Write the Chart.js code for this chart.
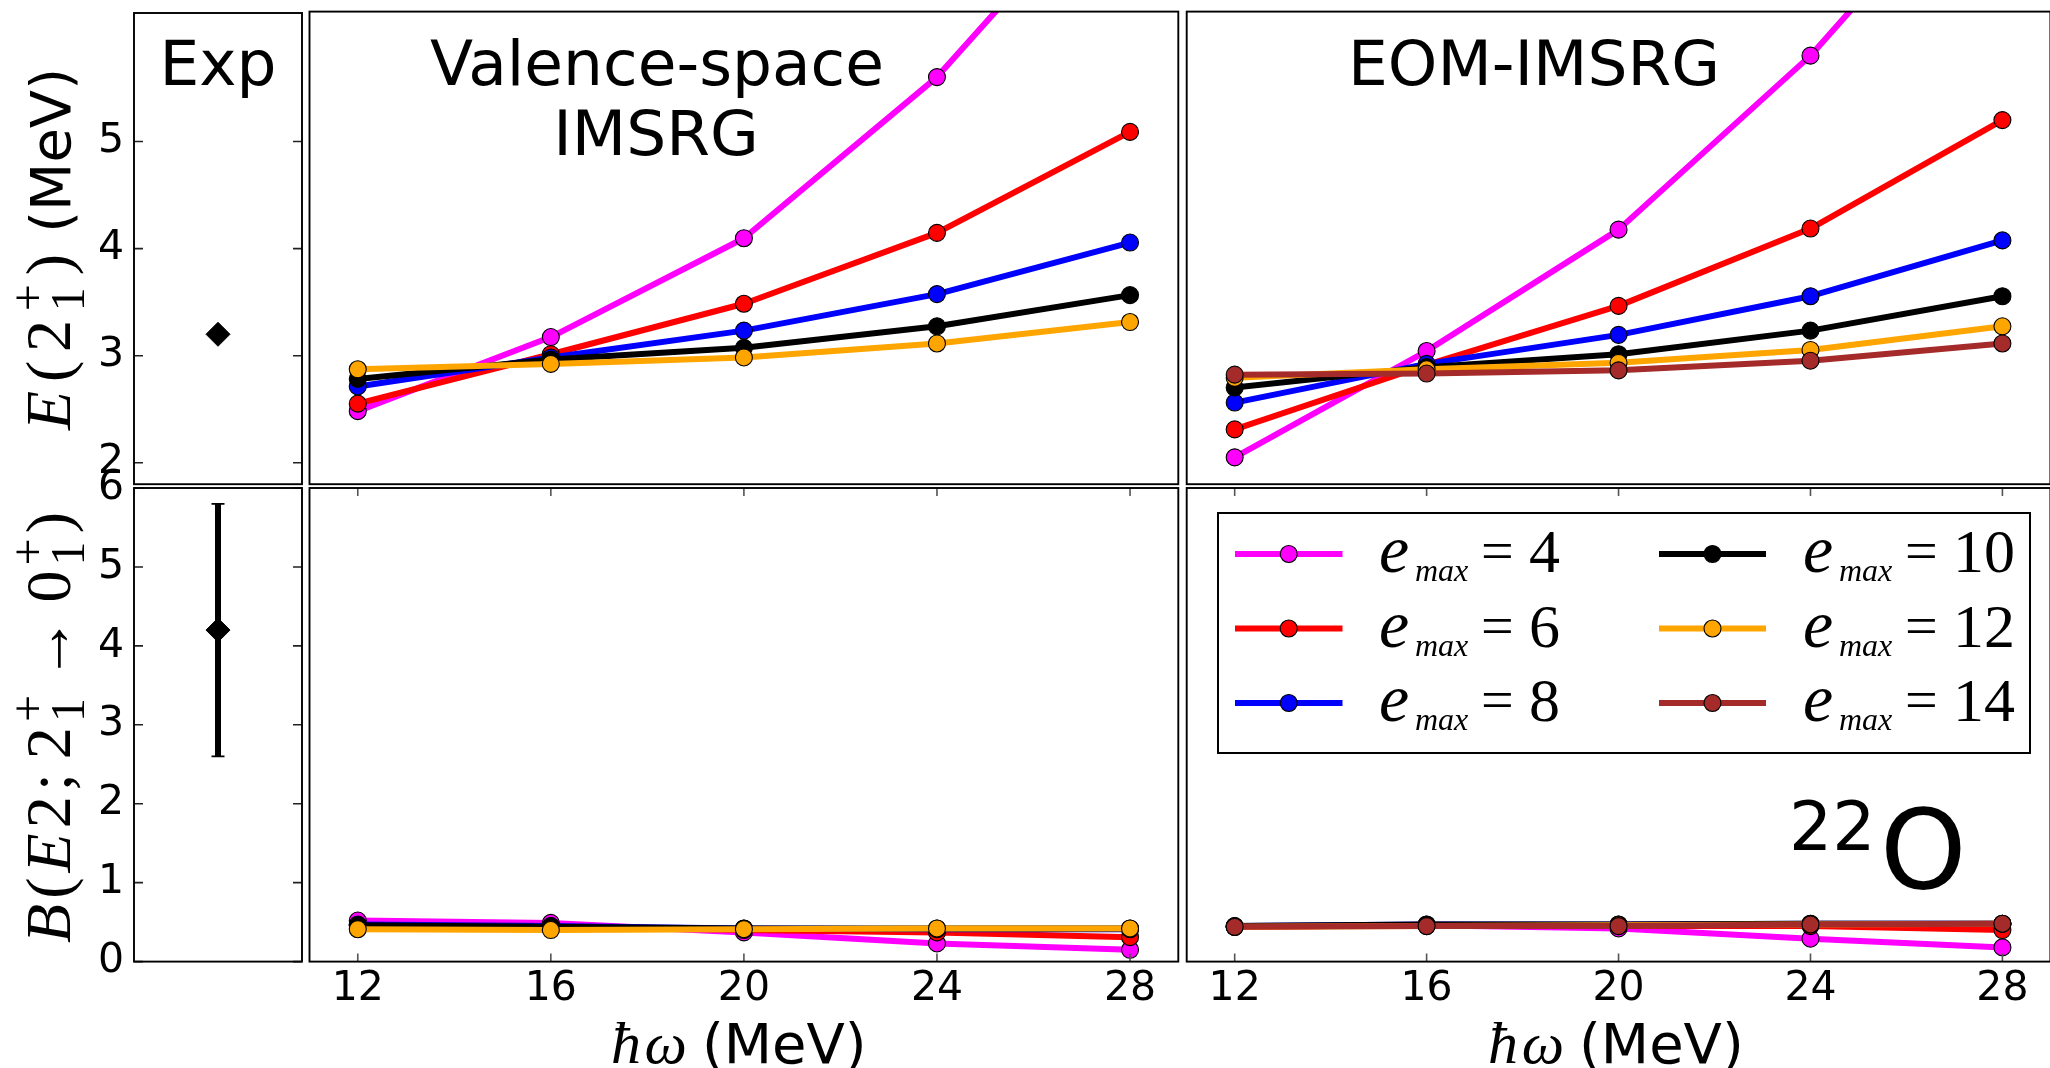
<!DOCTYPE html>
<html><head><meta charset="utf-8">
<script src="https://cdn.jsdelivr.net/npm/chart.js@4.4.1/dist/chart.umd.min.js"></script>
<style>
html,body{margin:0;padding:0;background:#fff;overflow:hidden;width:2050px;height:1068px;}
canvas{position:absolute;left:0;top:0;}
</style></head><body>
<canvas id="cExpTop" width="2060" height="1068"></canvas>
<canvas id="cExpBot" width="2060" height="1068"></canvas>
<canvas id="cVsTop" width="2060" height="1068"></canvas>
<canvas id="cVsBot" width="2060" height="1068"></canvas>
<canvas id="cEomTop" width="2060" height="1068"></canvas>
<canvas id="cEomBot" width="2060" height="1068"></canvas>
<script>
// ---------------- data ----------------
const hw = [12, 16, 20, 24, 28];
const xTickLabels = ['12', '16', '20', '24', '28'];
const eTickVals = [2, 3, 4, 5];
const eTickLabels = ['2', '3', '4', '5'];
const bTickVals = [0, 1, 2, 3, 4, 5, 6];
const bTickLabels = ['0', '1', '2', '3', '4', '5', '6'];
const emaxLabels = ['4', '6', '8', '10', '12', '14'];

// Valence-space IMSRG, E(2+)
const vsE_e4  = [2.48, 3.17, 4.09, 5.59, 7.60];
const vsE_e6  = [2.55, 3.01, 3.48, 4.14, 5.08];
const vsE_e8  = [2.71, 2.98, 3.23, 3.57, 4.05];
const vsE_e10 = [2.78, 2.96, 3.07, 3.27, 3.56];
const vsE_e12 = [2.87, 2.92, 2.98, 3.11, 3.31];
// EOM-IMSRG, E(2+)
const eomE_e4  = [2.05, 3.04, 4.17, 5.79, 7.80];
const eomE_e6  = [2.31, 2.91, 3.46, 4.18, 5.19];
const eomE_e8  = [2.56, 2.92, 3.19, 3.55, 4.07];
const eomE_e10 = [2.70, 2.89, 3.01, 3.23, 3.55];
const eomE_e12 = [2.79, 2.87, 2.93, 3.05, 3.27];
const eomE_e14 = [2.82, 2.83, 2.86, 2.95, 3.11];
// Valence-space IMSRG, B(E2)
const vsB_e4  = [0.52, 0.49, 0.37, 0.23, 0.15];
const vsB_e6  = [0.46, 0.45, 0.40, 0.37, 0.31];
const vsB_e8  = [0.47, 0.45, 0.42, 0.41, 0.41];
const vsB_e10 = [0.46, 0.44, 0.42, 0.42, 0.42];
const vsB_e12 = [0.41, 0.40, 0.41, 0.42, 0.42];
// EOM-IMSRG, B(E2)
const eomB_e4  = [0.44, 0.46, 0.42, 0.29, 0.18];
const eomB_e6  = [0.44, 0.46, 0.45, 0.45, 0.40];
const eomB_e8  = [0.45, 0.47, 0.47, 0.48, 0.48];
const eomB_e10 = [0.45, 0.47, 0.47, 0.48, 0.48];
const eomB_e12 = [0.44, 0.45, 0.46, 0.47, 0.48];
const eomB_e14 = [0.44, 0.45, 0.45, 0.47, 0.48];
// Experiment
const expE = 3.2;
const expB = 4.2;
const expBErr = 1.6;

// ---------------- styles / geometry ----------------
const COLORS = ['#ff00ff', '#ff0000', '#0000ff', '#000000', '#ffa500', '#a52a2a'];
const CW = 2060, CH = 1068;
const GEO = {
  expTop: {L: 134, T: 11.6, R: 302, B: 484.2},
  expBot: {L: 134, T: 488, R: 302, B: 961.6},
  vsTop:  {L: 309.5, T: 11.6, R: 1178.3, B: 484.2},
  vsBot:  {L: 309.5, T: 488, R: 1178.3, B: 961.6},
  eomTop: {L: 1186.7, T: 11.6, R: 2055.6, B: 484.2},
  eomBot: {L: 1186.7, T: 488, R: 2055.6, B: 961.6}
};
const TICK_FONT = {family: 'DejaVu Sans', size: 41};
const MI = s => `italic ${s}px "Liberation Serif", "DejaVu Serif"`;
const MR = s => `${s}px "Liberation Serif", "DejaVu Serif"`;
const SANS = s => `${s}px "DejaVu Sans"`;

function seriesDatasets(list) {
  return list.map((vals, i) => ({
    label: 'e_max=' + emaxLabels[i],
    data: hw.map((x, k) => ({x: x, y: vals[k]})),
    borderColor: COLORS[i],
    backgroundColor: COLORS[i],
    borderWidth: 6,
    borderJoinStyle: 'round',
    pointRadius: 8.5,
    pointBorderWidth: 1.1,
    pointBorderColor: '#000',
    pointBackgroundColor: COLORS[i],
    tension: 0,
    clip: 0,
    order: -i
  }));
}

// ---------- text helpers ----------
function runWidth(ctx, r) {
  if (r.gap !== undefined) return r.gap;
  if (r.stack) return Math.max(...r.stack.map(s => { ctx.font = s.font; return ctx.measureText(s.t).width; }));
  ctx.font = r.font; return ctx.measureText(r.t).width;
}
function runsWidth(ctx, runs) { return runs.reduce((a, r) => a + runWidth(ctx, r), 0); }
function drawRuns(ctx, runs, x, y, extra) {
  extra = extra || 0;
  ctx.textAlign = 'left'; ctx.textBaseline = 'alphabetic';
  for (const r of runs) {
    const w = runWidth(ctx, r);
    if (r.gap === undefined) {
      if (r.stack) { for (const s of r.stack) { ctx.font = s.font; ctx.fillText(s.t, x, y + s.dy); } }
      else { ctx.font = r.font; ctx.fillText(r.t, x, y + (r.dy || 0)); }
    }
    x += w + extra;
  }
  return x;
}
function drawRunsFit(ctx, runs, x, y, target) {
  const w = runsWidth(ctx, runs);
  drawRuns(ctx, runs, x, y, (target - w) / (runs.length - 1));
}

// ---------- frame plugin ----------
function framePlugin(spec) {
  return {
    id: 'frame',
    afterDraw(chart) {
      const {ctx, chartArea: a} = chart;
      ctx.save();
      if (spec.xTicks) {
        const xs = chart.scales.x;
        ctx.strokeStyle = '#555'; ctx.lineWidth = 1.6;
        for (const v of spec.xTicks) {
          const px = xs.getPixelForValue(v);
          ctx.beginPath();
          ctx.moveTo(px, a.bottom); ctx.lineTo(px, a.bottom - 8);
          ctx.moveTo(px, a.top); ctx.lineTo(px, a.top + 8);
          ctx.stroke();
        }
      }
      if (spec.yTicks) {
        const ys = chart.scales.y;
        ctx.strokeStyle = '#222'; ctx.lineWidth = 1.6;
        for (const v of spec.yTicks) {
          const py = ys.getPixelForValue(v);
          ctx.beginPath();
          ctx.moveTo(a.left, py); ctx.lineTo(a.left + 9, py);
          ctx.moveTo(a.right, py); ctx.lineTo(a.right - 9, py);
          ctx.stroke();
        }
      }
      ctx.strokeStyle = '#000'; ctx.lineWidth = 1.9;
      ctx.strokeRect(a.left, a.top, a.right - a.left, a.bottom - a.top);
      ctx.restore();
      if (spec.extra) spec.extra(chart);
    }
  };
}

function makeChart(id, g, cfg) {
  const W = cfg.yShow ? 120 : 0;
  const H = cfg.xShow ? 100 : 0;
  const zeroPad = s => { s.paddingLeft = 0; s.paddingRight = 0; s.paddingTop = 0; s.paddingBottom = 0; };
  return new Chart(document.getElementById(id), {
    type: 'line',
    data: {datasets: cfg.datasets},
    options: {
      responsive: false, animation: false, devicePixelRatio: 1,
      events: [],
      layout: {padding: {left: g.L - W, top: g.T, right: CW - g.R, bottom: CH - g.B - H}},
      plugins: {legend: {display: false}, tooltip: {enabled: false}},
      scales: {
        x: {
          type: 'linear', min: cfg.xMin, max: cfg.xMax, display: !!cfg.xShow,
          grid: {display: false, drawTicks: false}, border: {display: false},
          afterBuildTicks: s => { s.ticks = (cfg.xTicks || []).map(v => ({value: v})); },
          afterFit: s => { s.height = H; zeroPad(s); },
          ticks: {font: TICK_FONT, color: '#000', padding: 3, maxRotation: 0, autoSkip: false,
                  callback: (v, i) => (cfg.xTickLabels || [])[i]}
        },
        y: {
          type: 'linear', min: cfg.yMin, max: cfg.yMax, display: !!cfg.yShow,
          grid: {display: false, drawTicks: false}, border: {display: false},
          afterBuildTicks: s => { s.ticks = (cfg.yTicks || []).map(v => ({value: v})); },
          afterFit: s => { s.width = W; zeroPad(s); },
          ticks: {font: TICK_FONT, color: '#000', padding: 10, autoSkip: false,
                  callback: (v, i) => (cfg.yTickLabels || [])[i]}
        }
      }
    },
    plugins: [framePlugin({xTicks: cfg.frameX, yTicks: cfg.frameY, extra: cfg.extra})]
  });
}

function title(ctx, text, x, y) {
  ctx.save(); ctx.fillStyle = '#000'; ctx.font = SANS(63);
  ctx.textAlign = 'center'; ctx.textBaseline = 'alphabetic';
  ctx.fillText(text, x, y); ctx.restore();
}

function xLabel(ctx, cx) {
  ctx.save(); ctx.fillStyle = '#000';
  const x0 = cx - 133;
  drawRunsFit(ctx, [{t: 'ħ', font: MI(60)}, {t: 'ω', font: MI(60)}], x0, 1063, 76);
  ctx.font = SANS(56); ctx.textAlign = 'left';
  ctx.fillText('(MeV)', x0 + 91, 1063);
  ctx.restore();
}

const SUPSUB = [{t: '+', font: MR(48), dy: -26}, {t: '1', font: MR(48), dy: 14}];

// ---------------- Exp top ----------------
makeChart('cExpTop', GEO.expTop, {
  xMin: -1, xMax: 1, xShow: false,
  yMin: 1.8, yMax: 6.2, yShow: true, yTicks: eTickVals, yTickLabels: eTickLabels,
  frameY: eTickVals,
  datasets: [{
    data: [{x: 0, y: expE}], showLine: false, pointStyle: 'rectRot', pointRadius: 12,
    pointBackgroundColor: '#000', pointBorderColor: '#000', pointBorderWidth: 1, clip: 0
  }],
  extra: chart => {
    const ctx = chart.ctx;
    title(ctx, 'Exp', 218, 85);
    ctx.save(); ctx.fillStyle = '#000';
    ctx.translate(70, 430); ctx.rotate(-Math.PI / 2);
    drawRunsFit(ctx, [
      {t: 'E', font: MI(64)}, {t: '(', font: MR(64)}, {t: '2', font: MR(64)},
      {stack: SUPSUB}, {t: ')', font: MR(64)}
    ], 0, 0, 176);
    ctx.font = SANS(56); ctx.textAlign = 'right';
    ctx.fillText('(MeV)', 362, 0);
    ctx.restore();
  }
});

// ---------------- Exp bottom ----------------
makeChart('cExpBot', GEO.expBot, {
  xMin: -1, xMax: 1, xShow: false,
  yMin: 0, yMax: 6, yShow: true, yTicks: bTickVals, yTickLabels: bTickLabels,
  frameY: bTickVals,
  datasets: [
    {data: [{x: 0, y: expB - expBErr}, {x: 0, y: expB + expBErr}], borderColor: '#000', borderWidth: 6,
     pointStyle: 'line', pointRadius: 6.5, pointBorderWidth: 1.8, pointBorderColor: '#000', clip: 0, order: 2},
    {data: [{x: 0, y: expB}], showLine: false, pointStyle: 'rectRot', pointRadius: 12,
     pointBackgroundColor: '#000', pointBorderColor: '#000', pointBorderWidth: 1, clip: 0, order: 1}
  ],
  extra: chart => {
    const ctx = chart.ctx;
    ctx.save(); ctx.fillStyle = '#000';
    ctx.translate(70, 943); ctx.rotate(-Math.PI / 2);
    drawRunsFit(ctx, [
      {t: 'B', font: MI(64)}, {t: '(', font: MR(64)}, {t: 'E', font: MI(64)}, {t: '2', font: MR(64)},
      {t: ';', font: MR(64)}, {gap: 4}, {t: '2', font: MR(64)},
      {stack: SUPSUB},
      {gap: 4}, {t: '→', font: MR(64)}, {gap: 4}, {t: '0', font: MR(64)},
      {stack: SUPSUB},
      {t: ')', font: MR(64)}
    ], 0, 0, 431);
    ctx.restore();
  }
});

// ---------------- VS top ----------------
makeChart('cVsTop', GEO.vsTop, {
  xMin: 11, xMax: 29, xShow: false, xTicks: hw,
  yMin: 1.8, yMax: 6.2, yShow: false,
  datasets: seriesDatasets([vsE_e4, vsE_e6, vsE_e8, vsE_e10, vsE_e12]),
  extra: chart => {
    title(chart.ctx, 'Valence-space', 657, 85);
    title(chart.ctx, 'IMSRG', 656, 155);
  }
});

// ---------------- VS bottom ----------------
makeChart('cVsBot', GEO.vsBot, {
  xMin: 11, xMax: 29, xShow: true, xTicks: hw, xTickLabels: xTickLabels,
  yMin: 0, yMax: 6, yShow: false,
  frameX: hw,
  datasets: seriesDatasets([vsB_e4, vsB_e6, vsB_e8, vsB_e10, vsB_e12]),
  extra: chart => xLabel(chart.ctx, 743.9)
});

// ---------------- EOM top ----------------
makeChart('cEomTop', GEO.eomTop, {
  xMin: 11, xMax: 29, xShow: false, xTicks: hw,
  yMin: 1.8, yMax: 6.2, yShow: false,
  datasets: seriesDatasets([eomE_e4, eomE_e6, eomE_e8, eomE_e10, eomE_e12, eomE_e14]),
  extra: chart => title(chart.ctx, 'EOM-IMSRG', 1534, 85)
});

// ---------------- EOM bottom ----------------
makeChart('cEomBot', GEO.eomBot, {
  xMin: 11, xMax: 29, xShow: true, xTicks: hw, xTickLabels: xTickLabels,
  yMin: 0, yMax: 6, yShow: false,
  frameX: hw,
  datasets: seriesDatasets([eomB_e4, eomB_e6, eomB_e8, eomB_e10, eomB_e12, eomB_e14]),
  extra: chart => {
    const ctx = chart.ctx;
    xLabel(ctx, 1621);
    // legend
    ctx.save();
    ctx.fillStyle = '#fff'; ctx.fillRect(1218, 513, 812, 240);
    ctx.strokeStyle = '#000'; ctx.lineWidth = 2; ctx.strokeRect(1218, 513, 812, 240);
    const ds = chart.data.datasets;
    ds.forEach((d, i) => {
      const col = i < 3 ? 0 : 1, row = i % 3;
      const cy = 554 + row * 74.5;
      const lx0 = col ? 1659 : 1235, lx1 = col ? 1766 : 1342.5, mx = (lx0 + lx1) / 2;
      ctx.strokeStyle = d.borderColor; ctx.lineWidth = d.borderWidth;
      ctx.beginPath(); ctx.moveTo(lx0, cy); ctx.lineTo(lx1, cy); ctx.stroke();
      ctx.beginPath(); ctx.arc(mx, cy, 8.5, 0, Math.PI * 2);
      ctx.fillStyle = d.pointBackgroundColor; ctx.fill();
      ctx.lineWidth = 1.1; ctx.strokeStyle = '#000'; ctx.stroke();
      ctx.fillStyle = '#000';
      const tx = col ? 1805 : 1381, by = cy + 18;
      ctx.textAlign = 'left'; ctx.textBaseline = 'alphabetic';
      ctx.font = MI(68); ctx.fillText('e', tx - 2, by);
      ctx.font = MI(32); ctx.fillText('max', tx + 34, by + 9);
      ctx.font = MR(58); ctx.fillText('=', tx + 100, by - 2);
      ctx.font = MR(62); ctx.fillText(emaxLabels[i], tx + 148, by);
    });
    // nucleus label
    ctx.fillStyle = '#000'; ctx.textAlign = 'left'; ctx.textBaseline = 'alphabetic';
    ctx.font = SANS(68); ctx.fillText('22', 1789, 850);
    ctx.font = SANS(110); ctx.fillText('O', 1880, 888);
    ctx.restore();
  }
});
</script>
</body></html>
